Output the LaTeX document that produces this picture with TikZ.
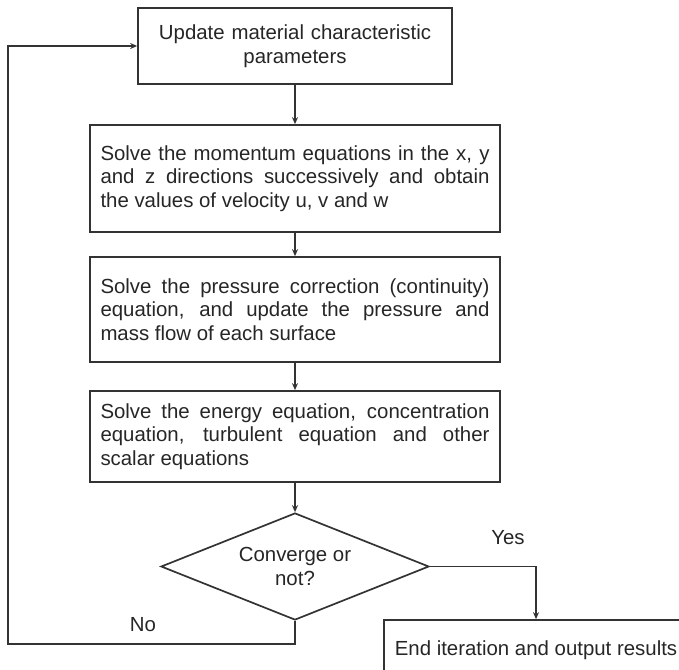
\documentclass[tikz,border=0pt]{standalone}
\usepackage{fontspec}
\setmainfont{Liberation Sans}
\usetikzlibrary{shapes.geometric,arrows.meta}
\begin{document}
\begin{tikzpicture}[x=1pt,y=-1pt,
	cadre/.style={draw=black!80,line width=1.7pt,text=black!85,inner xsep=10.5pt,inner ysep=0pt,font=\fontsize{20.4}{23.5}\selectfont},
	boite/.style={cadre,text width=389pt,align=justify},
	losange/.style={diamond,draw=black!80,line width=1.7pt,text=black!85,aspect=2.5,inner sep=0pt,minimum width=268pt,minimum height=107pt,align=center,font=\fontsize{20.4}{23.5}\selectfont},
	fleche/.style={draw=black!80,line width=1.4pt,-{Stealth[length=7pt,width=6pt]}},
	etiquette/.style={text=black!85,font=\fontsize{20.4}{23.5}\selectfont}]
	\useasboundingbox (0,0) rectangle (679,669);
	\clip (0,0) rectangle (679,669); % la boite finale sort du cadre
	\node[cadre,text width=293pt,align=center,minimum height=76pt] (maj) at (295,46) {Update material characteristic\\parameters};
	\node[boite,minimum height=107pt] (mom) at (295,178.5) {Solve the momentum equations in the x, y\linebreak and z directions successively and obtain\linebreak the values of velocity u, v and w};
	\node[boite,minimum height=105pt] (pres) at (295,309.5) {Solve the pressure correction (continuity)\linebreak equation, and update the pressure and\linebreak mass flow of each surface};
	\node[boite,minimum height=91pt] (ener) at (295,436.5) {Solve the energy equation, concentration\linebreak equation, turbulent equation and other\linebreak scalar equations};
	\node[losange] (conv) at (295,566.5) {Converge or\\not?};
	\node[cadre,minimum width=304pt,minimum height=60pt] (fin) at (536,650) {End iteration and output results};
	\coordinate (retour) at (8,644); % coin du retour
	\draw[fleche] (maj) -- (mom);
	\draw[fleche] (mom) -- (pres);
	\draw[fleche] (pres) -- (ener);
	\draw[fleche] (ener) -- (conv);
	\draw[fleche] (conv.east) -| (fin.north);
	\draw[fleche] (conv.south) |- (retour) |- (maj.west);
	\node[etiquette] (oui) at (508,538) {Yes};
	\node[etiquette] (non) at (143,625) {No};
\end{tikzpicture}
\end{document}
